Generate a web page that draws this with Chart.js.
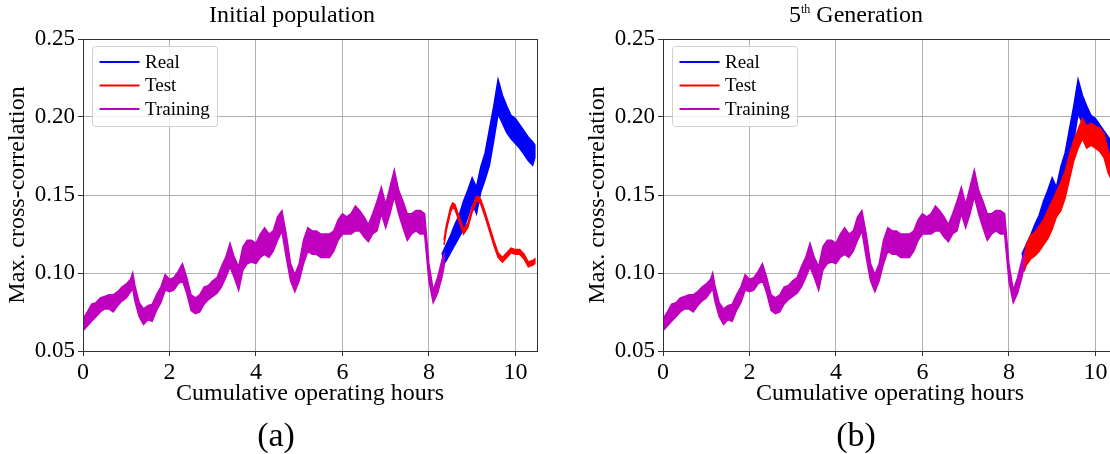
<!DOCTYPE html>
<html>
<head>
<meta charset="utf-8">
<script src="https://cdn.jsdelivr.net/npm/chart.js@4.4.1/dist/chart.umd.min.js"></script>
<style>
  html, body { margin: 0; padding: 0; background: #fff; overflow: hidden; }
  body { width: 1110px; height: 454px; position: relative; }
  canvas { position: absolute; top: 0; }
  .cap {
    position: absolute;
    transform: translateX(-50%);
    white-space: nowrap;
    line-height: 1;
    font-family: 'Liberation Serif', 'Times New Roman', serif;
    color: #000;
  }
  .cap sup { font-size: 12px; vertical-align: top; position: relative; top: 1px; }
</style>
</head>
<body>
<canvas id="chartA" width="560" height="454" style="left:0px"></canvas>
<canvas id="chartB" width="560" height="454" style="left:580px"></canvas>
<div class="cap" style="left:292px; top:2px; font-size:24px">Initial population</div>
<div class="cap" style="left:856px; top:2px; font-size:24px">5<sup>th</sup> Generation</div>
<div class="cap" style="left:276px; top:418px; font-size:34px">(a)</div>
<div class="cap" style="left:856px; top:418px; font-size:34px">(b)</div>
<script>
// tick values
const xTicks = [0, 2, 4, 6, 8, 10];
const yTicks = [0.05, 0.10, 0.15, 0.20, 0.25];

// Training band (same in both panels), lower / upper edge of the noisy trace
const trainHours = [0.0, 0.1, 0.2, 0.3, 0.4, 0.5, 0.6, 0.7, 0.8, 0.9, 1.0, 1.1, 1.15, 1.2, 1.3, 1.4, 1.5, 1.6, 1.7, 1.8, 1.9,
  2.0, 2.1, 2.2, 2.3, 2.4, 2.5, 2.6, 2.7, 2.8, 2.9, 3.0, 3.1, 3.2, 3.3, 3.4, 3.5, 3.6, 3.7, 3.8, 3.9,
  4.0, 4.1, 4.2, 4.3, 4.4, 4.5, 4.6, 4.7, 4.8, 4.9, 5.0, 5.1, 5.2, 5.3, 5.4, 5.5, 5.6, 5.7, 5.8, 5.9,
  6.0, 6.1, 6.2, 6.3, 6.4, 6.5, 6.6, 6.7, 6.8, 6.9, 7.0, 7.1, 7.2, 7.3, 7.4, 7.5, 7.6, 7.7, 7.8, 7.9,
  8.0, 8.1, 8.2, 8.3, 8.35];
const trainLo = [0.063, 0.066, 0.069, 0.072, 0.075, 0.077, 0.077, 0.075, 0.079, 0.082, 0.084, 0.088, 0.090, 0.082, 0.072, 0.067, 0.070, 0.069, 0.076, 0.081, 0.089,
  0.088, 0.089, 0.093, 0.095, 0.087, 0.076, 0.074, 0.075, 0.080, 0.083, 0.085, 0.087, 0.091, 0.097, 0.104, 0.097, 0.089, 0.102, 0.106, 0.107,
  0.106, 0.110, 0.112, 0.110, 0.114, 0.121, 0.127, 0.110, 0.095, 0.088, 0.095, 0.106, 0.114, 0.112, 0.112, 0.110, 0.110, 0.110, 0.114, 0.121,
  0.125, 0.125, 0.125, 0.127, 0.127, 0.123, 0.120, 0.125, 0.127, 0.138, 0.129, 0.138, 0.149, 0.138, 0.129, 0.121, 0.125, 0.127, 0.125, 0.125,
  0.095, 0.081, 0.087, 0.097, 0.104];
const trainHi = [0.0705, 0.075, 0.080, 0.081, 0.084, 0.085, 0.086, 0.086, 0.088, 0.091, 0.093, 0.096, 0.100, 0.092, 0.081, 0.077, 0.079, 0.080, 0.086, 0.091, 0.099,
  0.096, 0.097, 0.101, 0.106, 0.097, 0.086, 0.084, 0.086, 0.091, 0.092, 0.095, 0.097, 0.104, 0.110, 0.119, 0.110, 0.104, 0.117, 0.121, 0.121,
  0.119, 0.125, 0.129, 0.125, 0.127, 0.136, 0.140, 0.125, 0.106, 0.099, 0.106, 0.121, 0.129, 0.127, 0.127, 0.125, 0.125, 0.125, 0.127, 0.134,
  0.138, 0.136, 0.138, 0.143, 0.140, 0.136, 0.131, 0.138, 0.146, 0.155, 0.144, 0.155, 0.166, 0.153, 0.146, 0.138, 0.138, 0.140, 0.140, 0.138,
  0.106, 0.089, 0.097, 0.108, 0.112];

// Real (measured), same in both panels
const realHours = [8.3, 8.4, 8.5, 8.6, 8.7, 8.8, 8.9, 9.0, 9.1, 9.2, 9.3, 9.4, 9.5, 9.6, 9.7, 9.8, 9.9, 10.0, 10.1, 10.2, 10.3, 10.4, 10.45];
const realLo = [0.104, 0.108, 0.113, 0.118, 0.123, 0.128, 0.136, 0.145, 0.138, 0.152, 0.160, 0.169, 0.185, 0.202, 0.196, 0.190, 0.186, 0.183, 0.180, 0.176, 0.172, 0.169, 0.174];
const realHi = [0.112, 0.118, 0.124, 0.131, 0.137, 0.146, 0.153, 0.161, 0.155, 0.168, 0.177, 0.192, 0.207, 0.224, 0.214, 0.207, 0.201, 0.199, 0.195, 0.191, 0.187, 0.184, 0.182];

// Test, panel (a): initial population
const testHoursA = [8.35, 8.4, 8.5, 8.55, 8.6, 8.7, 8.8, 8.9, 9.0, 9.1, 9.15, 9.2, 9.3, 9.4, 9.5, 9.6, 9.7, 9.8, 9.9, 10.0, 10.1, 10.2, 10.3, 10.4, 10.45];
const testLoA = [0.118, 0.127, 0.139, 0.142, 0.141, 0.133, 0.125, 0.129, 0.139, 0.146, 0.146, 0.144, 0.136, 0.127, 0.118, 0.110, 0.107, 0.110, 0.113, 0.112, 0.112, 0.109, 0.104, 0.105, 0.106];
const testHiA = [0.121, 0.130, 0.142, 0.145, 0.144, 0.136, 0.128, 0.132, 0.142, 0.149, 0.149, 0.147, 0.139, 0.130, 0.121, 0.113, 0.110, 0.113, 0.116, 0.115, 0.115, 0.112, 0.107, 0.108, 0.109];

// Test, panel (b): 5th generation
const testHoursB = [8.35, 8.4, 8.5, 8.6, 8.7, 8.8, 8.9, 9.0, 9.1, 9.2, 9.3, 9.4, 9.5, 9.6, 9.7, 9.8, 9.9, 10.0, 10.1, 10.2, 10.3, 10.4, 10.45];
const testLoB = [0.101, 0.105, 0.109, 0.111, 0.114, 0.118, 0.122, 0.128, 0.136, 0.140, 0.148, 0.160, 0.172, 0.180, 0.186, 0.180, 0.182, 0.180, 0.178, 0.174, 0.164, 0.158, 0.155];
const testHiB = [0.108, 0.118, 0.124, 0.126, 0.130, 0.134, 0.140, 0.146, 0.152, 0.158, 0.165, 0.176, 0.185, 0.192, 0.199, 0.194, 0.196, 0.194, 0.193, 0.189, 0.178, 0.170, 0.166];

const SERIF = "'Liberation Serif', 'Times New Roman', serif";
Chart.defaults.font.family = SERIF;

// outline of the noisy trace: upper edge forward, lower edge back
function band(hours, lo, hi) {
  const pts = hours.map((h, i) => ({ x: h, y: hi[i] }));
  for (let i = hours.length - 1; i >= 0; i--) {
    pts.push({ x: hours[i], y: lo[i] });
  }
  return pts;
}

const framePlugin = {
  id: 'frame',
  afterDraw(chart) {
    const { ctx, chartArea: a } = chart;
    ctx.save();
    ctx.strokeStyle = '#333';
    ctx.lineWidth = 1;
    ctx.strokeRect(Math.round(a.left) + 0.5, Math.round(a.top) + 0.5, Math.round(a.right - a.left), Math.round(a.bottom - a.top));

    // legend box, upper left
    const bx = a.left + 9.5, by = a.top + 7.5;
    ctx.beginPath();
    ctx.roundRect(bx, by, 125, 80, 3);
    ctx.fillStyle = 'rgba(255,255,255,0.8)';
    ctx.fill();
    ctx.strokeStyle = '#d0d0d0';
    ctx.stroke();
    const entries = chart.data.datasets.slice().sort((p, q) => q.order - p.order);
    entries.forEach((ds, i) => {
      const y = a.top + 23 + i * 23.5;
      ctx.beginPath();
      ctx.moveTo(a.left + 16.5, y);
      ctx.lineTo(a.left + 56.5, y);
      ctx.strokeStyle = ds.borderColor;
      ctx.lineWidth = 2;
      ctx.stroke();
      ctx.fillStyle = '#000';
      ctx.font = '19px ' + SERIF;
      ctx.textBaseline = 'middle';
      ctx.fillText(ds.label, a.left + 62, y + 1);
    });
    ctx.restore();
  }
};

function series(label, pts, color, order) {
  return { label: label, data: pts, borderColor: color, backgroundColor: color, fill: 'shape', order: order };
}

function makeChart(id, testHours, testLo, testHi) {
  return new Chart(document.getElementById(id), {
    type: 'line',
    data: {
      datasets: [
        series('Training', band(trainHours, trainLo, trainHi), '#bf00bf', 0),
        series('Test', band(testHours, testLo, testHi), '#ff0000', 1),
        series('Real', band(realHours, realLo, realHi), '#0000ff', 2)
      ]
    },
    options: {
      responsive: false,
      animation: false,
      devicePixelRatio: 1,
      layout: { padding: { top: 39, right: 23, left: 0, bottom: 0 } },
      elements: {
        point: { radius: 0 },
        line: { borderWidth: 1.5, tension: 0 }
      },
      plugins: {
        legend: { display: false },
        tooltip: { enabled: false }
      },
      scales: {
        x: {
          type: 'linear',
          min: 0,
          max: 10.5,
          afterBuildTicks: (scale) => { scale.ticks = xTicks.map(v => ({ value: v })); },
          afterFit: (scale) => { scale.height = 103; },
          grid: { color: '#b0b0b0', tickColor: '#333', tickLength: 5, lineWidth: 1 },
          border: { display: false },
          ticks: { color: '#000', font: { family: SERIF, size: 24 }, padding: 2, maxRotation: 0, callback: v => String(v) },
          title: {
            display: true,
            text: 'Cumulative operating hours',
            color: '#000',
            font: { family: SERIF, size: 24 },
            padding: { top: 0, bottom: 46 }
          }
        },
        y: {
          min: 0.05,
          max: 0.25,
          afterBuildTicks: (scale) => { scale.ticks = yTicks.map(v => ({ value: v })); },
          afterFit: (scale) => { scale.width = 83; },
          grid: { color: '#b0b0b0', tickColor: '#333', tickLength: 5, lineWidth: 1 },
          border: { display: false },
          ticks: { color: '#000', font: { family: SERIF, size: 23 }, padding: 3, callback: v => v.toFixed(2) },
          title: {
            display: true,
            text: 'Max. cross-correlation',
            color: '#000',
            font: { family: SERIF, size: 24 },
            padding: { top: 3, bottom: 0 }
          }
        }
      }
    },
    plugins: [framePlugin]
  });
}

makeChart('chartA', testHoursA, testLoA, testHiA);
makeChart('chartB', testHoursB, testLoB, testHiB);
</script>
</body>
</html>
